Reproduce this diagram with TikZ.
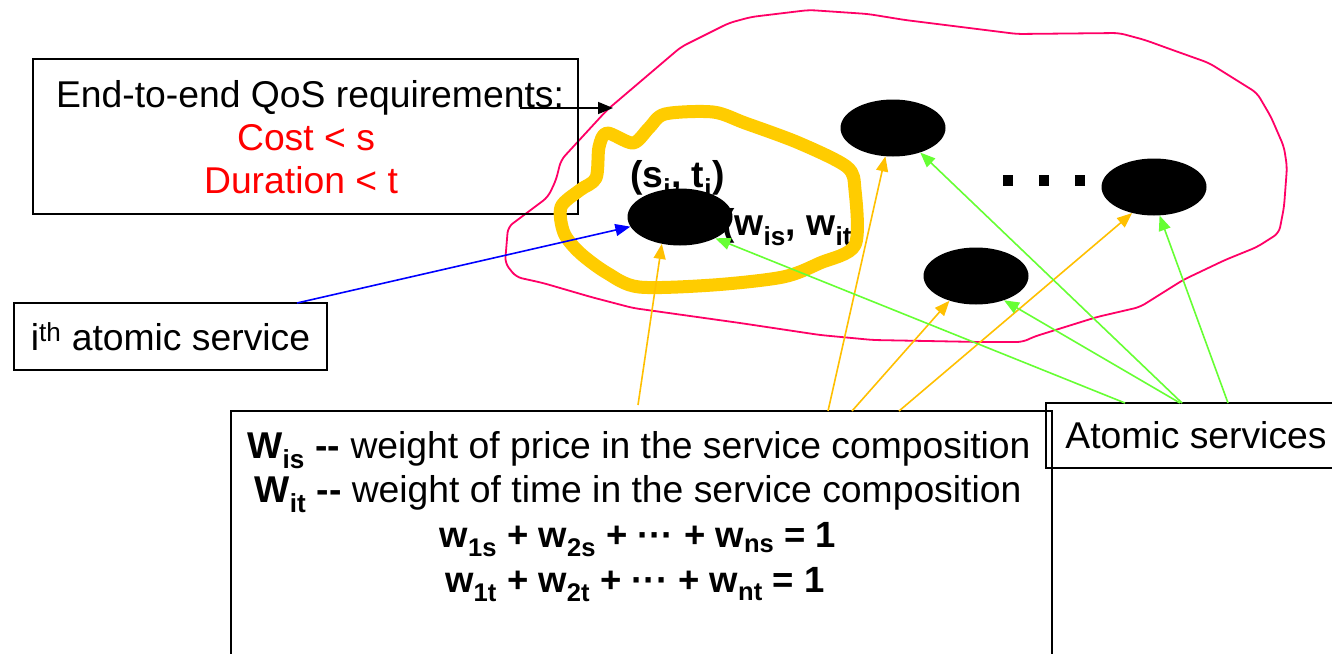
\documentclass[tikz,border=0pt]{standalone}
\usepackage{fontspec}
\setmainfont{Liberation Sans}
\usetikzlibrary{shapes.geometric,arrows.meta,calc}
\definecolor{pinkline}{RGB}{255,0,102}
\definecolor{gold}{RGB}{255,204,0}
\definecolor{goldthin}{RGB}{255,192,0}
\definecolor{lgreen}{RGB}{102,255,51}
\definecolor{qred}{RGB}{255,0,0}
\newcommand\bigfnt{\fontsize{37.3}{43}\selectfont}
\newcommand\sumfnt{\fontsize{36.5}{43}\selectfont}
\begin{document}
\begin{tikzpicture}[x=1pt,y=-1pt,
  txt/.style={font=\bigfnt, inner sep=0pt},
  bx/.style={draw, line width=1.6pt, inner sep=0pt},
  svc/.style={ellipse, fill=black, minimum width=105pt, minimum height=57pt, inner sep=0pt},
  tipped/.style={line width=1.6pt, -{Triangle[length=15pt,width=12pt]}},
  yarrow/.style={tipped, goldthin},
  garrow/.style={tipped, lgreen}]
\clip (0,0) rectangle (1332,653);
\fill[white] (0,0) rectangle (1332,653);

% pink cloud
\draw[pinkline, line width=1.8pt, line join=round, rounded corners=6pt]
  (505,263) -- (508,227) -- (548,197) -- (556,180) -- (561,160) -- (607,110)
  -- (681,47) -- (729,23) -- (751,17) -- (809,10) -- (868,14) -- (905,20) -- (985,30)
  -- (1017,34) -- (1119,33) -- (1145,40) -- (1167,48) -- (1209,63) -- (1257,93)
  -- (1271,117) -- (1284,147) -- (1287,167) -- (1284,207) -- (1279,233) -- (1257,247)
  -- (1225,260) -- (1183,280) -- (1140,307) -- (1097,317) -- (1033,337) -- (1023,342)
  -- (980,342) -- (873,340) -- (820,335) -- (740,323) -- (633,308) -- (591,297)
  -- (543,283) -- (516,277) -- cycle;

% boxes
\node[bx, minimum width=545pt, minimum height=155pt] (qos) at (305.5,136.5) {};
\node[txt, anchor=base] (q1) at (310,107) {End-to-end QoS requirements:};
\node[txt, anchor=base, text=qred] (q2) at (306,150) {Cost < s};
\node[txt, anchor=base, text=qred] (q3) at (301,193) {Duration < t};

\node[bx, minimum width=313pt, minimum height=67pt, font=\bigfnt] (ith) at (170.5,336.5) {i\textsuperscript{th} atomic service};
\node[bx, minimum width=821pt, minimum height=289pt] (comp) at (641.5,555.5) {};
\node[bx, minimum width=300pt, minimum height=65pt, font=\bigfnt] (atom) at (1196,435.5) {Atomic services};

\node[txt, anchor=base] (l1) at (639,458) {\textbf{W\textsubscript{is} -{}-} weight of price in the service composition};
\node[txt, anchor=base] (l2) at (638,502) {\textbf{W\textsubscript{it} -{}-} weight of time in the service composition};
\node[txt, anchor=base, font=\sumfnt\bfseries] (l3) at (638,547) {w\textsubscript{1s} + w\textsubscript{2s} + ··· + w\textsubscript{ns} = 1};
\node[txt, anchor=base, font=\sumfnt\bfseries] (l4) at (635,592) {w\textsubscript{1t} + w\textsubscript{2t} + ··· + w\textsubscript{nt} = 1};

% labels near the i-th service
\node[txt, font=\bigfnt\bfseries, anchor=base west] (st) at (630,187) {(s\textsubscript{i}, t\textsubscript{i})};
\node[txt, font=\bigfnt\bfseries, anchor=base west] (wt) at (722,235) {(w\textsubscript{is}, w\textsubscript{it})};

% services
\node[svc] (e1) at (680,217) {};
\node[svc] (e2) at (893,128) {};
\node[svc] (e3) at (1154,187) {};
\node[svc] (e4) at (976,276) {};

% dots
\fill (1003,175) rectangle (1013,186);
\fill (1039,175) rectangle (1049,186);
\fill (1075,175) rectangle (1085,186);

% yellow outline
\draw[gold, line width=13pt, line join=round]
  plot[smooth cycle, tension=0.5] coordinates {(665,114) (713,112) (745,123) (799,143)
  (847,167) (855,190) (855,245) (820,263) (783,277) (713,285) (639,287) (607,273)
  (580,253) (564,233) (561,207) (580,190) (596,178) (599,147) (607,133) (633,143) (649,128)};

% connector end points
\coordinate (qa) at (520,108);
\coordinate (qb) at (613,108);
\coordinate (bs) at (297,303);
\coordinate (y1) at (638,405);
\coordinate (y2) at (828,411);
\coordinate (y3) at (852,411);
\coordinate (y4) at (899,411);
\coordinate (g1) at (1125,403);
\coordinate (g2) at (1180,403);
\coordinate (g3) at (1182,403);
\coordinate (g4) at (1228,403);

\draw[tipped, black] (qa) -- (qb);
\draw[tipped, blue] (bs) -- (e1.191);
\draw[yarrow] (y1) -- (e1.236);
\draw[yarrow] (y2) -- (e2.255);
\draw[yarrow] (y3) -- (e4.223);
\draw[yarrow] (y4) -- (e3.230);
\draw[garrow] (g1) -- (e1.329);
\draw[garrow] (g2) -- (e4.319);
\draw[garrow] (g3) -- (e2.318);
\draw[garrow] (g4) -- (e3.281);
\end{tikzpicture}
\end{document}
